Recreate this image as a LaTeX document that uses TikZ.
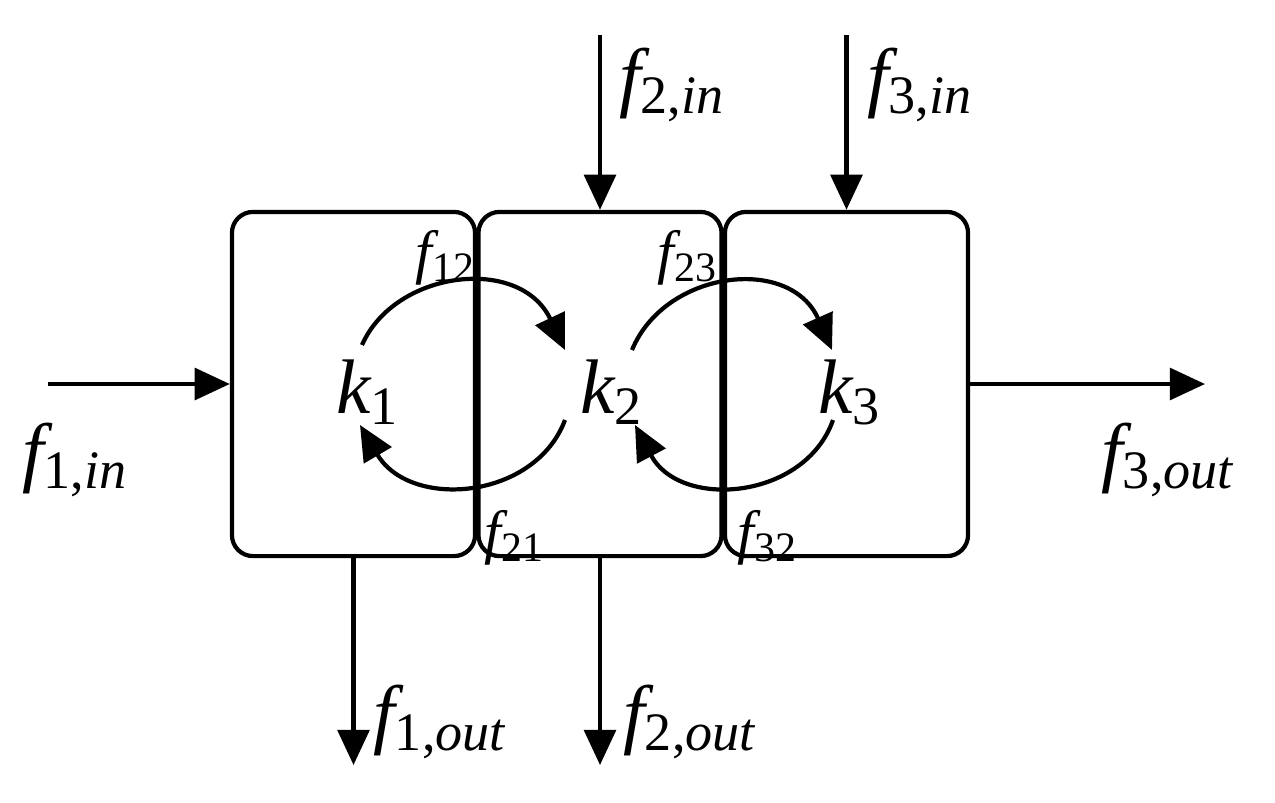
\documentclass[tikz,border=0pt]{standalone}
\usepackage{fontspec}
\setmainfont{Liberation Serif}
\usetikzlibrary{arrows.meta}
\tikzset{
  box/.style={draw, line width=1.2pt, rounded corners=6pt, inner sep=0pt,
    minimum width=2.43cm, minimum height=3.44cm},
  flow/.style={line width=1.2pt, -{Triangle[length=10pt,width=9pt]}},
  big/.style={font=\fontsize{22}{26}\selectfont\itshape, inner sep=0pt},
  small/.style={font=\fontsize{17}{20}\selectfont\itshape, inner sep=0pt},
}
\begin{document}
\begin{tikzpicture}[x=0.01cm, y=-0.01cm]
\useasboundingbox (0,0) rectangle (1275,802);
\node[box] (b1) at (353.5,384) {};
\node[box] (b2) at (600,384) {};
\node[box] (b3) at (846.5,384) {};

\coordinate (in1) at (48,384);
\coordinate (out3) at (1205,384);
\coordinate (in2) at (600,35);
\coordinate (in3) at (846.5,35);
\coordinate (out1) at (353.5,765);
\coordinate (out2) at (600,765);

\draw[flow] (in1) -- (b1.west);
\draw[flow] (b3.east) -- (out3);
\draw[flow] (in2) -- (b2.north);
\draw[flow] (in3) -- (b3.north);
\draw[flow] (b1.south) -- (out1);
\draw[flow] (b2.south) -- (out2);

\node[big] (k1) at (368,392) {k\textsubscript{\upshape 1}};
\node[big] (k2) at (612,392) {k\textsubscript{\upshape 2}};
\node[big] (k3) at (850,392) {k\textsubscript{\upshape 3}};

\node[big] (l1in) at (75,460) {f\textsubscript{\upshape 1,\itshape in}};
\node[big] (l3out) at (1168,460) {f\textsubscript{\upshape 3,\itshape out}};
\node[big] (l2in) at (672,85) {f\textsubscript{\upshape 2,\itshape in}};
\node[big] (l3in) at (920,85) {f\textsubscript{\upshape 3,\itshape in}};
\node[big] (l1out) at (440,722) {f\textsubscript{\upshape 1,\itshape out}};
\node[big] (l2out) at (690,722) {f\textsubscript{\upshape 2,\itshape out}};

\node[small] (l12) at (446,258) {f\textsubscript{\upshape 12}};
\node[small] (l23) at (688,258) {f\textsubscript{\upshape 23}};
\node[small] (l21) at (515,538) {f\textsubscript{\upshape 21}};
\node[small] (l32) at (768,538) {f\textsubscript{\upshape 32}};

\coordinate (a1) at (362,345); \coordinate (a2) at (565,350);
\coordinate (c1) at (565,420); \coordinate (c2) at (360,425);
\coordinate (d1) at (632,350); \coordinate (d2) at (832,350);
\coordinate (e1) at (833,420); \coordinate (e2) at (635,425);
\draw[flow] (a1) .. controls (395,270) and (520,255) .. (a2);
\draw[flow] (c1) .. controls (535,500) and (410,510) .. (c2);
\draw[flow] (d1) .. controls (665,270) and (790,255) .. (d2);
\draw[flow] (e1) .. controls (805,500) and (680,510) .. (e2);
\end{tikzpicture}
\end{document}
